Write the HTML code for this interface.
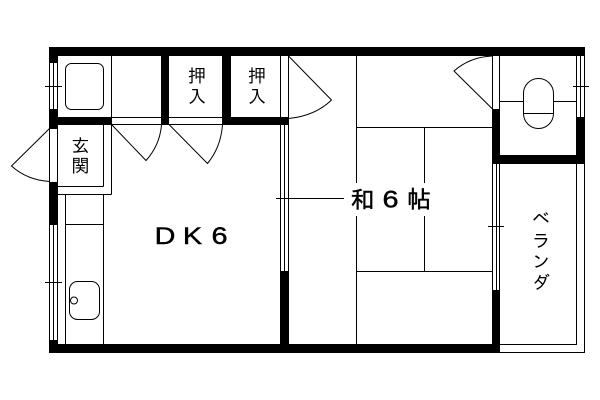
<!DOCTYPE html>
<html><head><meta charset="utf-8"><style>
html,body{margin:0;padding:0;background:#fff;width:600px;height:400px;overflow:hidden}
svg{display:block}
.t{font-family:"Liberation Sans","IPAGothic","Noto Sans CJK JP",sans-serif;fill:#000;text-anchor:middle}
.b{stroke:#000;stroke-width:.45}
</style></head><body>
<svg width="600" height="400" viewBox="0 0 600 400" xmlns="http://www.w3.org/2000/svg">
<rect width="600" height="400" fill="#fff"/>
<g fill="#000" shape-rendering="crispEdges">
<rect x="49" y="47" width="536" height="9"/>
<rect x="49" y="56" width="9" height="7"/>
<rect x="49" y="109" width="9" height="20"/>
<rect x="49" y="117" width="62" height="8"/>
<rect x="49" y="182" width="9" height="43"/>
<rect x="49" y="340" width="9" height="13"/>
<rect x="49" y="344" width="451" height="9"/>
<rect x="161" y="56" width="8" height="69"/>
<rect x="222" y="56" width="9" height="69"/>
<rect x="222" y="117" width="67" height="8"/>
<rect x="280" y="271" width="9" height="73"/>
<rect x="492" y="109" width="8" height="55"/>
<rect x="492" y="155" width="93" height="9"/>
<rect x="576" y="117" width="9" height="47"/>
<rect x="492" y="290" width="8" height="54"/>
</g>
<g fill="none" stroke="#000" stroke-width="1" shape-rendering="crispEdges">
<path d="M49.5 63V109M53.5 63V109M57.5 63V109M45 86.5H62"/>
<path d="M49.5 129V182M57.5 125V182"/>
<path d="M49.5 225V340M53.5 225V340M57.5 225V340M45 282.5H62"/>
<path d="M111.5 56V194.5M58 194.5H111.5M58 186.5H103.5M103.5 125V186.5"/>
<path d="M111 117.5H222M111 124.5H222"/>
<path d="M65.5 194V344M103.5 194V344M65 224.5H103"/>
<path d="M280.5 56V117M288.5 56V117M280.5 125V271M284.5 125V271M288.5 125V271M276 198.5H344M284 198.5H293"/>
<path d="M356.5 56V183M356.5 216V344M356 127.5H492M424.5 127V183M424.5 216V272M356 271.5H492"/>
<path d="M492.5 56V109M499.5 56V109M576.5 56V117M580.5 56V117M584.5 56V117M573 86.5H589"/>
<path d="M500 101.5H523M554 101.5H576M523.5 113.5H553.5"/>
<path d="M492.5 164V290M496.5 164V290M499.5 164V290M488 226.5H504"/>
<path d="M576.5 164V344.5M584.5 164V352.5M500 344.5H577M500 352.5H585"/>
</g>
<g fill="none" stroke="#000" stroke-width="1">
<rect x="65.5" y="63.5" width="38" height="46" rx="6" ry="6"/>
<path d="M49.5 128.5L11.5 166Q27 180 49.5 181.5"/>
<path d="M111.5 124.5L146 160.5Q160 145 161.5 124.5"/>
<path d="M169 124.5L207.5 163.5Q221 147 222.5 124.5"/>
<path d="M288.5 56L331.5 100Q315 116 288.5 118.5"/>
<path d="M492.5 109L454 71Q470 57 492 56"/>
<rect x="523.5" y="78.5" width="30" height="50" rx="15" ry="15"/>
<rect x="69.5" y="281.5" width="30" height="38" rx="8" ry="8"/>
<circle cx="74" cy="300.5" r="3.5"/>
</g>
<g class="t">
<text class="t" x="80.5" y="152" font-size="18">玄</text>
<text class="t" x="80.5" y="172" font-size="18">関</text>
<text class="t" x="197" y="82" font-size="18">押</text>
<text class="t" x="197" y="103" font-size="18">入</text>
<text class="t" x="257" y="82" font-size="18">押</text>
<text class="t" x="257" y="103" font-size="18">入</text>
<text class="t b" transform="translate(165 244) scale(1.2 1)" font-size="24">D</text>
<text class="t b" transform="translate(192.5 244) scale(1.2 1)" font-size="24">K</text>
<text class="t b" transform="translate(219.5 244) scale(1.2 1)" font-size="24">6</text>
<text class="t b" x="362.5" y="208" font-size="24">和</text>
<text class="t b" transform="translate(390.5 207.5) scale(1.2 1)" font-size="24">6</text>
<text class="t b" x="419" y="208" font-size="24">帖</text>
<text class="t" x="541" y="225" font-size="18">ベ</text>
<text class="t" x="541" y="247" font-size="18">ラ</text>
<text class="t" x="541" y="268" font-size="18">ン</text>
<text class="t" x="541" y="289" font-size="18">ダ</text>
</g>
</svg>
</body></html>
